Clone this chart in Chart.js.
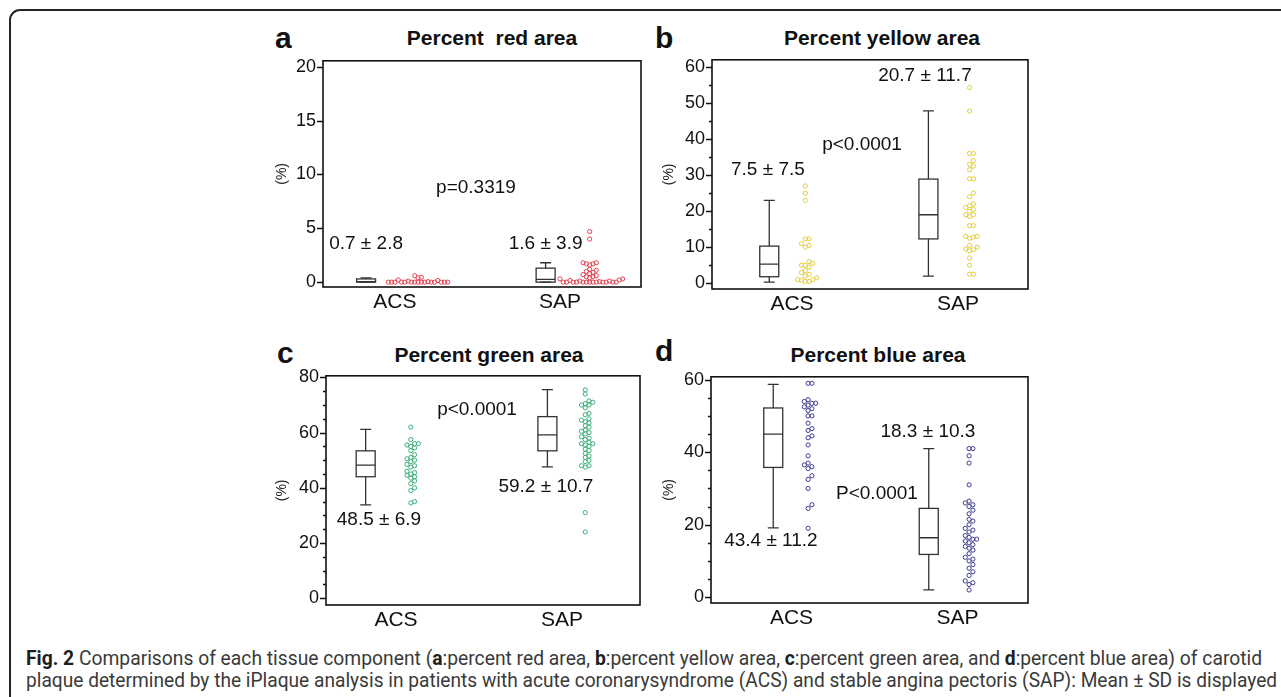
<!DOCTYPE html>
<html>
<head>
<meta charset="utf-8">
<script src="https://cdn.jsdelivr.net/npm/chart.js@4.4.0/dist/chart.umd.min.js"></script>
<style>
  body { margin:0; background:#fff; width:1281px; height:697px; overflow:hidden; position:relative;
         font-family:"Liberation Sans", Arial, sans-serif; color:#111; }
  .frame  { position:absolute; left:9px; top:9px; width:1300px; height:720px; border:2px solid #252525; border-radius:11px; }
  .letter { position:absolute; font-weight:bold; font-size:30px; line-height:30px; }
  .title  { position:absolute; font-weight:bold; font-size:21px; line-height:21px; white-space:pre; text-align:center; width:300px; }
  .cap    { position:absolute; left:26px; font-family:Roboto,"DejaVu Sans Condensed",sans-serif;
            font-size:20px; line-height:20px; white-space:nowrap; transform-origin:0 0; color:#3a3a3a; }
  .cap b  { color:#1e1e1e; }
  canvas  { position:absolute; }
</style>
</head>
<body>
<div class="frame"></div>
<div class="cap" id="cap1"><b>Fig. 2</b> Comparisons of each tissue component (<b>a</b>:percent red area, <b>b</b>:percent yellow area, <b>c</b>:percent green area, and <b>d</b>:percent blue area) of carotid</div>
<div class="cap" id="cap2">plaque determined by the iPlaque analysis in patients with acute coronarysyndrome (ACS) and stable angina pectoris (SAP): Mean ± SD is displayed</div>

<script>
Chart.defaults.font.family = '"Liberation Sans", Arial, sans-serif';
Chart.defaults.color = "#111";

const groups = ["ACS", "SAP"];

// box summaries per group: [min, q1, median, q3, max]
const redBox    = [[0, 0, 0.05, 0.3, 0.4],      [0, 0, 0.25, 1.3, 1.8]];
const yellowBox = [[0.3, 1.8, 5.3, 10.3, 23],   [2, 12.3, 19, 28.9, 47.8]];
const greenBox  = [[33.8, 44, 48.2, 53.4, 61.2],[47.6, 53.4, 59.2, 65.8, 75.6]];
const blueBox   = [[19.1, 35.8, 45, 52.2, 58.7],[2, 11.8, 16.4, 24.5, 41]];

// individual patients (%)
const redACS = [0,0,0,0,0,0,0,0,0,0,0,0,0,0,0, 0.05,0.1,0.15,0.2,0.4,0.45,0.6];
const redSAP = [0,0,0,0,0,0,0,0,0,0,0,0,0, 0.05,0.1,0.1,0.15,0.2,0.3,0.3,0.4,0.5,0.5,0.6,0.7,0.8,0.9,1.0,1.1,1.2,1.6,1.7,1.7,1.8,1.8,4.0,4.7];
const yellowACS = [27,25,23,12.3,12.3,11,10.5,10,6,5.5,5,5,4.5,3.5,3,2.5,2,1.5,1,1,0.8,0.5,0.5];
const yellowSAP = [54.3,47.8,36,36,34,33,32.5,31.5,29,29,25,24,22,21.5,21,20.5,20,19,19,18.5,16,16,13,13,12.8,12.5,10.5,10,9.5,9.3,9,7,5,2.5,2.5];
const greenACS = [62,57.5,56,56,55.5,55,54.5,53.5,52,51,50.5,50,49.5,48.5,48,47.5,46,45.5,45,44.5,44,43.5,42.5,41.5,40,39,35,34.5];
const greenSAP = [75.5,74,71.5,71,70.5,70,70,69,67,66.5,65,64.5,64,63.5,62.5,62,61,60.5,60,59.5,58.5,58,57.5,56.5,56,56,55.5,55,54,53.5,52.5,51.5,51,50,49.5,48,48,47.5,31,24];
const blueACS = [59,59,54.5,54,53.5,53.5,53,52.5,52,51.5,50,50,48,46.5,46,44.5,44,42,39,37,36.5,36,35.5,33.5,32.5,30,25.5,24.5,19];
const blueSAP = [41,41,39,37,31,26.5,26,25.5,25,24,23,21.5,21,20,19,18.5,18,17,16.5,16,16,15.5,15,14.5,14,13.5,13,12,11,10.5,10,9,8,7,6,4.5,4,3.5,2];

// y tick values (labelled every "every" units)
const ticksA = [0,5,10,15,20];
const ticksB = [0,5,10,15,20,25,30,35,40,45,50,55,60];
const ticksC = [0,5,10,15,20,25,30,35,40,45,50,55,60,65,70,75,80];
const ticksD = [0,5,10,15,20,25,30,35,40,45,50,55,60];

const meanSdRed    = ["0.7 ± 2.8", "1.6 ± 3.9"];
const meanSdYellow = ["7.5 ± 7.5", "20.7 ± 11.7"];
const meanSdGreen  = ["48.5 ± 6.9", "59.2 ± 10.7"];
const meanSdBlue   = ["43.4 ± 11.2", "18.3 ± 10.3"];
const pRed = "p=0.3319", pYellow = "p<0.0001", pGreen = "p<0.0001", pBlue = "P<0.0001";

// layout of the four panels
const panels = [
  { letter:"a", title:"Percent  red area", color:"#e2414e", box:redBox, pts:[redACS, redSAP], gap:3.3,
    yMin:-0.45, yMax:20.55, yTicks:ticksA, every:5, xMin:0.564, xMax:2.491,
    boxX:[0.825,1.913], dotX:[1.14,2.18], frame:[323,57,641,287], axisTitleX:282,
    letterPos:[275,48], titlePos:[492,45],
    notes:[[meanSdRed[0],0.825,3.56],[meanSdRed[1],1.913,3.56],[pRed,1.491,8.8]] },
  { letter:"b", title:"Percent yellow area", color:"#e2cc3a", box:yellowBox, pts:[yellowACS, yellowSAP], gap:3.8,
    yMin:-1.6, yMax:62, yTicks:ticksB, every:10, xMin:0.518, xMax:2.422,
    boxX:[0.863,1.822], dotX:[1.08,2.07], frame:[712,56,1028,289], axisTitleX:669,
    letterPos:[655,48], titlePos:[882,45],
    notes:[[meanSdYellow[0],0.855,31.4],[meanSdYellow[1],1.801,57.5],[pYellow,1.422,38.5]] },
  { letter:"c", title:"Percent green area", color:"#3aae7a", box:greenBox, pts:[greenACS, greenSAP], gap:3.8,
    yMin:-2.5, yMax:80.6, yTicks:ticksC, every:20, xMin:0.578, xMax:2.47,
    boxX:[0.817,1.912], dotX:[1.089,2.14], frame:[326,372,640,605], axisTitleX:282,
    letterPos:[277,363], titlePos:[489,362],
    notes:[[meanSdGreen[0],0.897,28.4],[meanSdGreen[1],1.903,40.2],[pGreen,1.488,68.3]] },
  { letter:"d", title:"Percent blue area", color:"#3e3c92", box:blueBox, pts:[blueACS, blueSAP], gap:3.8,
    yMin:-1.6, yMax:60.8, yTicks:ticksD, every:20, xMin:0.515, xMax:2.425,
    boxX:[0.89,1.827], dotX:[1.1,2.07], frame:[711,373,1028,603], axisTitleX:669,
    letterPos:[655,361], titlePos:[878,362],
    notes:[[meanSdBlue[0],0.876,15.5],[meanSdBlue[1],1.822,45.6],[pBlue,1.515,28.5]] },
];

// simple beeswarm: spread equal-ish values sideways so the circles don't pile up
function swarm(values, center, pxX, pxY, gap) {
  const placed = [];
  return values.slice().sort((a, b) => a - b).map(v => {
    const y = v * pxY;
    let off = 0;
    for (let k = 0; k < 200; k++) {
      off = k === 0 ? 0 : (k % 2 ? 1 : -1) * Math.ceil(k / 2) * gap;
      if (!placed.some(p => (p.x - off) ** 2 + (p.y - y) ** 2 < gap * gap)) break;
    }
    placed.push({ x: off, y });
    return { x: center + off / pxX, y: v };
  });
}

panels.forEach(p => {
  const [fl, ft, fr, fb] = p.frame;

  const lt = document.createElement("div");
  lt.className = "letter"; lt.textContent = p.letter;
  lt.style.left = p.letterPos[0] + "px"; lt.style.top = (p.letterPos[1] - 25.4) + "px";
  document.body.appendChild(lt);
  const tt = document.createElement("div");
  tt.className = "title"; tt.textContent = p.title;
  tt.style.left = (p.titlePos[0] - 150) + "px"; tt.style.top = (p.titlePos[1] - 17.8) + "px";
  document.body.appendChild(tt);

  const left = Math.round(p.axisTitleX - 8.4), top = ft - 14;
  const width = fr + 8 - left, height = fb + 38 - top;
  const cv = document.createElement("canvas");
  cv.width = width; cv.height = height;
  cv.style.left = left + "px"; cv.style.top = top + "px";
  cv.style.width = width + "px"; cv.style.height = height + "px";
  document.body.appendChild(cv);

  const pxX = (fr - fl) / (p.xMax - p.xMin);
  const pxY = (fb - ft) / (p.yMax - p.yMin);

  const plotExtras = {
    id: "plotExtras",
    beforeDatasetsDraw(chart) {
      const { ctx, scales: { x, y } } = chart;
      ctx.save();
      ctx.strokeStyle = "#333"; ctx.lineWidth = 1.3;
      p.box.forEach((b, i) => {
        const cx = x.getPixelForValue(p.boxX[i]);
        const [mn, q1, md, q3, mx] = b.map(v => y.getPixelForValue(v));
        const hw = 9.5, cw = 5.5;
        ctx.strokeRect(cx - hw, q3, hw * 2, q1 - q3);
        ctx.beginPath();
        ctx.moveTo(cx - hw, md); ctx.lineTo(cx + hw, md);
        ctx.moveTo(cx, q3); ctx.lineTo(cx, mx);
        ctx.moveTo(cx - cw, mx); ctx.lineTo(cx + cw, mx);
        ctx.moveTo(cx, q1); ctx.lineTo(cx, mn);
        ctx.moveTo(cx - cw, mn); ctx.lineTo(cx + cw, mn);
        ctx.stroke();
      });
      ctx.restore();
    },
    afterDraw(chart) {
      const { ctx, chartArea: a, scales: { x, y } } = chart;
      ctx.save();
      ctx.strokeStyle = "#111"; ctx.lineWidth = 1.6;
      ctx.strokeRect(a.left, a.top, a.right - a.left, a.bottom - a.top);
      ctx.lineWidth = 1.3;
      ctx.beginPath();
      p.yTicks.forEach(v => {
        const py = Math.round(y.getPixelForValue(v)) + 0.5;
        const len = v % p.every === 0 ? 6 : 3;
        ctx.moveTo(a.left - len, py); ctx.lineTo(a.left, py);
      });
      ctx.stroke();
      ctx.fillStyle = "#111";
      ctx.font = '19px "Liberation Sans", Arial, sans-serif';
      ctx.textAlign = "center"; ctx.textBaseline = "middle";
      p.notes.forEach(([txt, nx, ny]) => ctx.fillText(txt, x.getPixelForValue(nx), y.getPixelForValue(ny)));
      ctx.restore();
    }
  };

  new Chart(cv, {
    type: "scatter",
    data: {
      datasets: p.pts.map((vals, i) => ({
        data: swarm(vals, p.dotX[i], pxX, pxY, p.gap),
        pointStyle: "circle", pointRadius: 2.1, borderWidth: 1,
        borderColor: p.color, backgroundColor: "rgba(255,255,255,0)",
      })),
    },
    options: {
      responsive: false, animation: false, devicePixelRatio: 1,
      layout: { padding: { top: 14, right: 8, left: 0, bottom: 0 } },
      plugins: { legend: { display: false }, tooltip: { enabled: false } },
      scales: {
        x: {
          type: "linear", min: p.xMin, max: p.xMax,
          afterBuildTicks: s => { s.ticks = groups.map((g, i) => ({ value: i + 1 })); },
          ticks: { callback: v => groups[Math.round(v) - 1], font: { size: 21 }, padding: 3, color: "#111", autoSkip: false, maxRotation: 0 },
          grid: { display: false, drawTicks: false, tickLength: 0 },
          border: { display: false },
          afterFit: s => { s.height = 38; },
        },
        y: {
          type: "linear", min: p.yMin, max: p.yMax,
          afterBuildTicks: s => { s.ticks = p.yTicks.map(v => ({ value: v })); },
          ticks: { callback: v => (v % p.every === 0 ? v : ""), font: { size: 18 }, padding: 7, color: "#111", autoSkip: false },
          grid: { display: false, drawTicks: false, tickLength: 0 },
          border: { display: false },
          title: { display: true, text: "(%)", font: { size: 14 }, padding: 0, color: "#222" },
          afterFit: s => { s.width = fl - left; },
        },
      },
    },
    plugins: [plotExtras],
  });
});

// fit the two caption lines to their measured widths
[["cap1", 648, 1236], ["cap2", 670, 1251]].forEach(([id, top, w]) => {
  const el = document.getElementById(id);
  el.style.top = top + "px";
  el.style.transform = `scaleX(${w / el.offsetWidth})`;
});
</script>
</body>
</html>
